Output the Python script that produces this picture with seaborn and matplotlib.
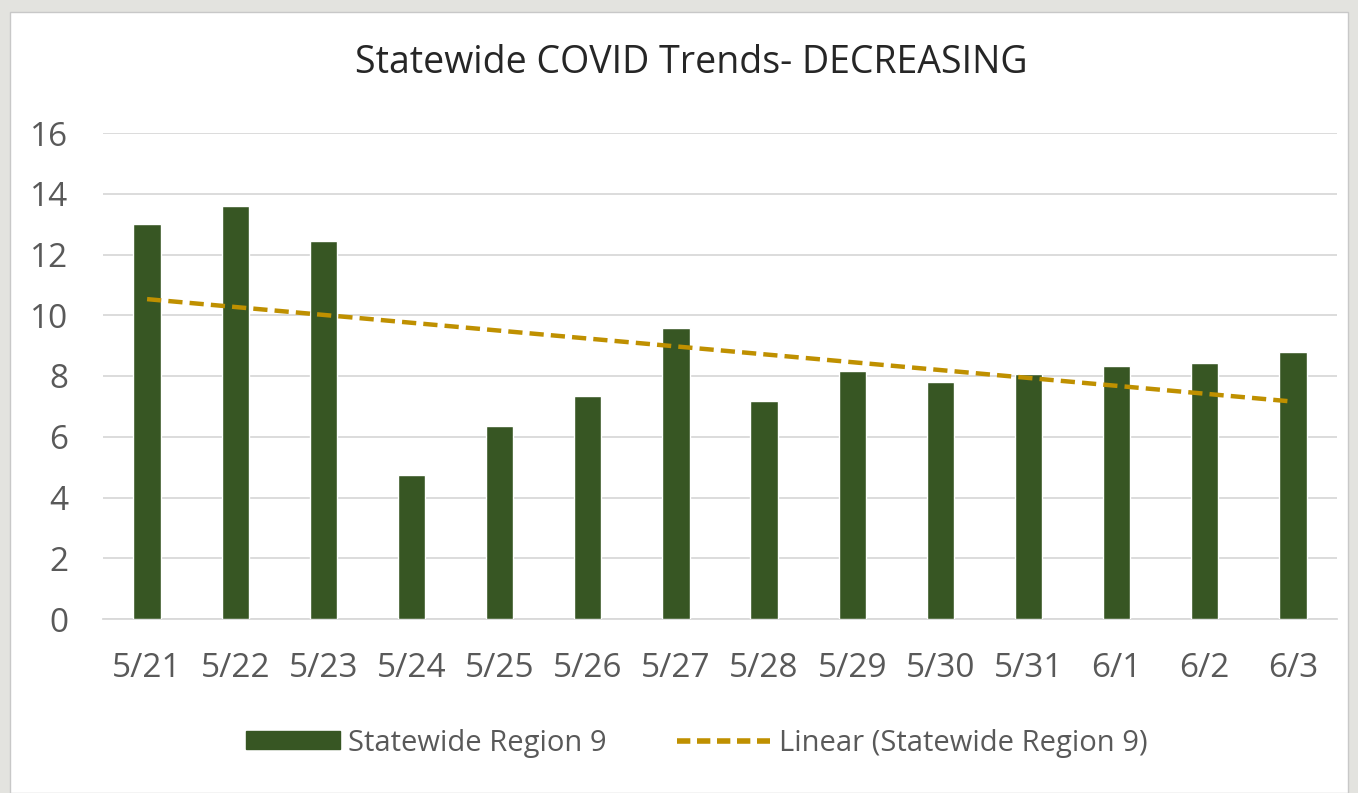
import numpy as np
import pandas as pd
import matplotlib
matplotlib.use("Agg")
import matplotlib.pyplot as plt
import seaborn as sns
from matplotlib.patches import Rectangle, Patch
from matplotlib.lines import Line2D

# values
dates = ["5/21", "5/22", "5/23", "5/24", "5/25", "5/26", "5/27",
         "5/28", "5/29", "5/30", "5/31", "6/1", "6/2", "6/3"]
region9 = [13.0, 13.6, 12.45, 4.74, 6.35, 7.34, 9.58,
           7.18, 8.16, 7.80, 8.07, 8.33, 8.43, 8.79]
y_ticks = [0, 2, 4, 6, 8, 10, 12, 14, 16]

BAR_COLOR = "#375623"
TREND_COLOR = "#BF9000"
TEXT_COLOR = "#595959"

sns.set_style("white")
plt.rcParams["font.family"] = ["Open Sans", "DejaVu Sans"]

df = pd.DataFrame({"date": dates, "value": region9})

fig = plt.figure(figsize=(13.58, 7.93), dpi=100)
fig.patch.set_facecolor("#e3e3df")
# white chart area inside the grey frame
fig.patches.append(Rectangle((10 / 1358, 0), 1338 / 1358, 781 / 793,
                             transform=fig.transFigure, facecolor="white",
                             edgecolor="#c8c8c8", linewidth=1, zorder=-10))

ax = fig.add_axes([103 / 1358, 1 - 619 / 793, 1234 / 1358, 486 / 793])
ax.set_facecolor("none")

sns.barplot(data=df, x="date", y="value", color=BAR_COLOR, width=0.31,
            saturation=1, ax=ax, zorder=3)

# linear trendline fitted to the bars
x = np.arange(len(region9))
slope, intercept = np.polyfit(x, region9, 1)
ax.plot(x, slope * x + intercept, color=TREND_COLOR, linestyle=(0, (3.2, 1.6)),
        linewidth=3.2, zorder=4)

ax.set_xlim(-0.5, len(dates) - 0.5)
ax.set_ylim(0, 16)
ax.set_yticks(y_ticks)
ax.yaxis.grid(True, color="#d9d9d9", linewidth=1.3, zorder=0)
ax.set_axisbelow(True)
ax.set_xlabel("")
ax.set_ylabel("")

for side in ["top", "right", "left"]:
    ax.spines[side].set_visible(False)
ax.spines["bottom"].set_color("#d9d9d9")
ax.spines["bottom"].set_linewidth(1.3)

ax.tick_params(axis="y", length=0, labelsize=24, labelcolor=TEXT_COLOR, pad=25)
ax.tick_params(axis="x", which="major", length=0, labelsize=24,
               labelcolor=TEXT_COLOR, pad=24)
ax.set_xticks(np.arange(-0.5, len(dates)), minor=True)
ax.tick_params(axis="x", which="minor", length=9, color="#d9d9d9", width=1.3)

fig.text(691 / 1358, 1 - 63 / 793, "Statewide COVID Trends- DECREASING",
         ha="center", va="center", fontsize=27, color="#262626")

handles = [Patch(facecolor=BAR_COLOR, edgecolor=BAR_COLOR),
           Line2D([0], [0], color=TREND_COLOR, linestyle=(0, (2.4, 1.2)), linewidth=4)]
labels = ["Statewide Region 9", "Linear (Statewide Region 9)"]
fig.legend(handles, labels, loc="center", bbox_to_anchor=(697 / 1358, 1 - 743 / 793),
           ncol=2, frameon=False, fontsize=21, labelcolor=TEXT_COLOR,
           handlelength=3.2, handleheight=0.6, handletextpad=0.3, columnspacing=2.4)

fig.savefig("out.png", dpi=100, facecolor=fig.get_facecolor())
